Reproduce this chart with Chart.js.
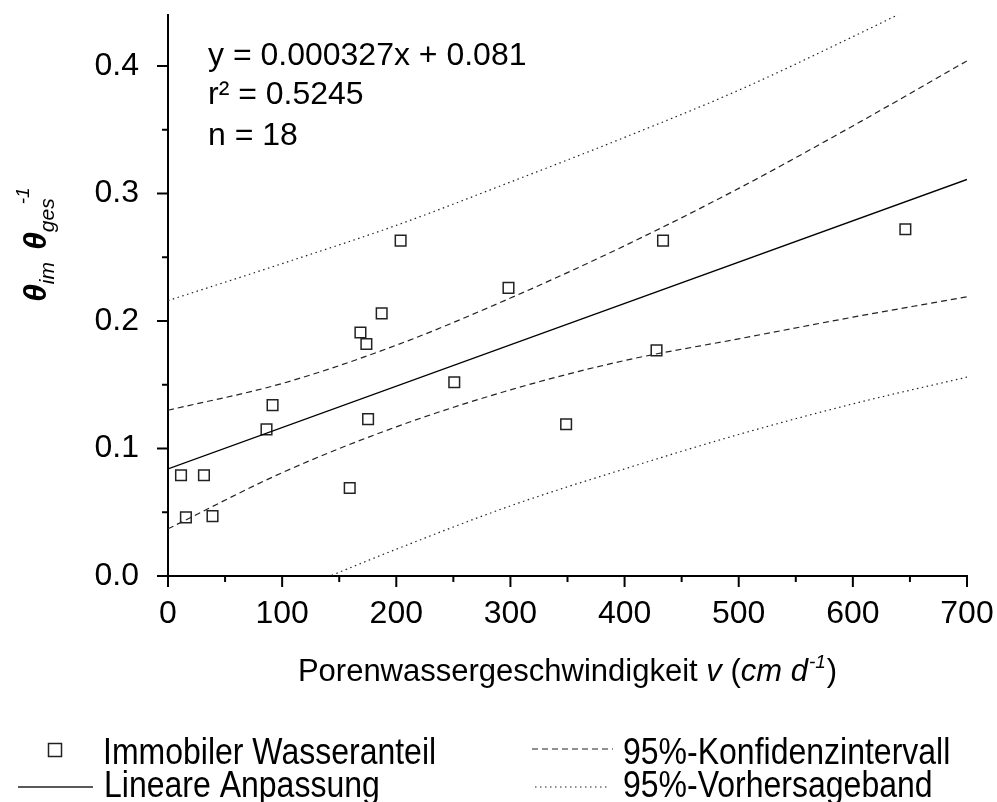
<!DOCTYPE html>
<html>
<head>
<meta charset="utf-8">
<script src="https://cdn.jsdelivr.net/npm/chart.js@4"></script>
<style>
  html, body { margin: 0; padding: 0; background: #fff; }
  canvas { display: block; }
</style>
</head>
<body>
<canvas id="chart" width="997" height="802"></canvas>
<script>
// measured points (v in cm/d, theta_im / theta_ges)
const vValues = [11.4, 15.7, 31.5, 39, 86.3, 91.6, 159.2, 168.6, 173.8, 175.3, 187.2, 203.8, 250.8, 298.3, 348.8, 428, 433.7, 646];
const thetaValues = [0.079, 0.046, 0.079, 0.047, 0.115, 0.134, 0.069, 0.191, 0.182, 0.123, 0.206, 0.263, 0.152, 0.226, 0.119, 0.177, 0.263, 0.272];

// linear fit ends
const fitX = [0, 700];
const fitY = [0.084, 0.311];

// bands
const bandX = [0, 100, 200, 300, 400, 500, 600, 700];
const confUpper = [0.130, 0.151, 0.181, 0.218, 0.259, 0.304, 0.353, 0.404];
const confLower = [0.037, 0.081, 0.117, 0.146, 0.169, 0.186, 0.203, 0.219];
const predUpper = [0.216, 0.245, 0.275, 0.309, 0.344, 0.381, 0.423, 0.467];
const predLower = [-0.048, -0.015, 0.021, 0.055, 0.084, 0.111, 0.135, 0.156];

// axis ticks
const xTickValues = [0, 100, 200, 300, 400, 500, 600, 700];
const xMinorTicks = [50, 150, 250, 350, 450, 550, 650];
const yTickValues = [0.0, 0.1, 0.2, 0.3, 0.4];
const yMinorTicks = [0.05, 0.15, 0.25, 0.35];

const eqLines = ["y = 0.000327x + 0.081", "r\u00B2 = 0.5245", "n = 18"];

const FONT = "'Liberation Sans', Arial, Helvetica, sans-serif";
const DASH = [6, 4];
const DOT = [1.5, 3.5];

function pairs(xs, ys) {
  return xs.map((x, i) => ({ x: x, y: ys[i] }));
}

function drawRuns(ctx, runs, x, y) {
  let cx = x;
  runs.forEach(r => {
    ctx.font = r.font;
    cx += r.dx || 0;
    ctx.fillText(r.text, cx, y + (r.dy || 0));
    cx += ctx.measureText(r.text).width;
  });
  return cx - x;
}

function runsWidth(ctx, runs) {
  let w = 0;
  runs.forEach(r => {
    ctx.font = r.font;
    w += (r.dx || 0) + ctx.measureText(r.text).width;
  });
  return w;
}

// legend text is a bit taller than wide in the original
function tallText(ctx, text, x, base) {
  ctx.save();
  ctx.translate(x, base);
  ctx.scale(1, 1.15);
  ctx.fillText(text, 0, 0);
  ctx.restore();
}

const extras = {
  id: "extras",
  afterDraw(chart) {
    const ctx = chart.ctx;
    const xs = chart.scales.x;
    const ys = chart.scales.y;
    const area = chart.chartArea;

    ctx.save();
    ctx.strokeStyle = "#000";
    ctx.lineWidth = 2;
    ctx.setLineDash([]);
    // x ticks
    xTickValues.concat(xMinorTicks).forEach(v => {
      const px = xs.getPixelForValue(v);
      const len = xTickValues.includes(v) ? 11 : 6;
      ctx.beginPath();
      ctx.moveTo(px, area.bottom);
      ctx.lineTo(px, area.bottom + len);
      ctx.stroke();
    });
    // y ticks
    yTickValues.concat(yMinorTicks).forEach(v => {
      const py = ys.getPixelForValue(v);
      const len = yTickValues.includes(v) ? 11 : 6;
      ctx.beginPath();
      ctx.moveTo(area.left - len, py);
      ctx.lineTo(area.left, py);
      ctx.stroke();
    });

    ctx.fillStyle = "#000";
    ctx.textAlign = "left";
    ctx.textBaseline = "alphabetic";

    // regression text
    ctx.font = "32px " + FONT;
    const eqBase = [65, 104, 145];
    eqLines.forEach((t, i) => ctx.fillText(t, 208, eqBase[i]));

    // x axis title
    const xRuns = [
      { text: "Porenwassergeschwindigkeit ", font: "31px " + FONT },
      { text: "v", font: "italic 31px " + FONT },
      { text: " (", font: "31px " + FONT },
      { text: "cm d", font: "italic 31px " + FONT },
      { text: "-1", font: "italic 19px " + FONT, dy: -13, dx: 1 },
      { text: ")", font: "31px " + FONT, dx: 1 }
    ];
    const xw = runsWidth(ctx, xRuns);
    drawRuns(ctx, xRuns, (area.left + area.right) / 2 - xw / 2, 681);

    // y axis title (rotated)
    ctx.save();
    ctx.translate(46, 302);
    ctx.rotate(-Math.PI / 2);
    drawRuns(ctx, [
      { text: "\u03B8", font: "bold italic 32px " + FONT },
      { text: "im", font: "italic 21px " + FONT, dy: 8, dx: 0 },
      { text: "\u03B8", font: "bold italic 32px " + FONT, dx: 12 },
      { text: "ges", font: "italic 21px " + FONT, dy: 8, dx: 0 },
      { text: "-1", font: "italic 19px " + FONT, dy: -17, dx: -6 }
    ], 0, 0);
    ctx.restore();

    // legend
    ctx.font = "32px " + FONT;
    ctx.strokeStyle = "#222";
    ctx.lineWidth = 1.5;
    ctx.strokeRect(48.5, 743.5, 13, 13);
    tallText(ctx, chart.data.datasets[4].label, 103, 764);

    ctx.beginPath();
    ctx.moveTo(18, 787);
    ctx.lineTo(93, 787);
    ctx.stroke();
    tallText(ctx, chart.data.datasets[0].label, 104, 797);

    ctx.lineWidth = 1.2;
    ctx.setLineDash(DASH);
    ctx.beginPath();
    ctx.moveTo(532, 749);
    ctx.lineTo(613, 749);
    ctx.stroke();
    tallText(ctx, chart.data.datasets[1].label, 623, 764);

    ctx.setLineDash(DOT);
    ctx.beginPath();
    ctx.moveTo(535, 787);
    ctx.lineTo(608, 787);
    ctx.stroke();
    tallText(ctx, chart.data.datasets[3].label, 623, 797);
    ctx.restore();
  }
};

const lineBase = {
  type: "line",
  showLine: true,
  fill: false,
  pointRadius: 0,
  borderColor: "#222",
  borderWidth: 1.2,
  cubicInterpolationMode: "monotone"
};

const ctx = document.getElementById("chart").getContext("2d");
new Chart(ctx, {
  type: "scatter",
  data: {
    datasets: [
      Object.assign({}, lineBase, { label: "Lineare Anpassung", data: pairs(fitX, fitY), borderColor: "#000", borderWidth: 1.3 }),
      Object.assign({}, lineBase, { label: "95%-Konfidenzintervall", data: pairs(bandX, confUpper), borderDash: DASH }),
      Object.assign({}, lineBase, { label: "95%-Konfidenzintervall (unten)", data: pairs(bandX, confLower), borderDash: DASH }),
      Object.assign({}, lineBase, { label: "95%-Vorhersageband", data: pairs(bandX, predUpper), borderDash: DOT }),
      {
        type: "scatter",
        label: "Immobiler Wasseranteil",
        data: pairs(vValues, thetaValues),
        pointStyle: "rect",
        pointRadius: 7.5,
        pointBackgroundColor: "rgba(0,0,0,0)",
        pointBorderColor: "#222",
        pointBorderWidth: 1.5
      },
      Object.assign({}, lineBase, { label: "95%-Vorhersageband (unten)", data: pairs(bandX, predLower), borderDash: DOT })
    ]
  },
  options: {
    responsive: false,
    animation: false,
    events: [],
    layout: { padding: { left: 0, right: 30, top: 15, bottom: 0 } },
    plugins: { legend: { display: false }, tooltip: { enabled: false } },
    scales: {
      x: {
        type: "linear",
        position: "bottom",
        min: 0,
        max: 700,
        afterBuildTicks: s => { s.ticks = xTickValues.map(v => ({ value: v })); },
        afterFit: s => { s.height = 226; s.paddingLeft = 0; s.paddingRight = 0; },
        grid: { display: false },
        border: { display: true, color: "#000", width: 2 },
        ticks: {
          color: "#000",
          font: { family: FONT, size: 32 },
          padding: 11,
          maxRotation: 0,
          autoSkip: false,
          callback: v => String(v)
        }
      },
      y: {
        type: "linear",
        min: 0,
        max: 0.44,
        afterBuildTicks: s => { s.ticks = yTickValues.map(v => ({ value: v })); },
        afterFit: s => { s.width = 168; s.paddingTop = 0; s.paddingBottom = 0; },
        grid: { display: false },
        border: { display: true, color: "#000", width: 2 },
        ticks: {
          color: "#000",
          font: { family: FONT, size: 32 },
          padding: 21,
          callback: v => v.toFixed(1)
        }
      }
    }
  },
  plugins: [extras]
});
</script>
</body>
</html>
